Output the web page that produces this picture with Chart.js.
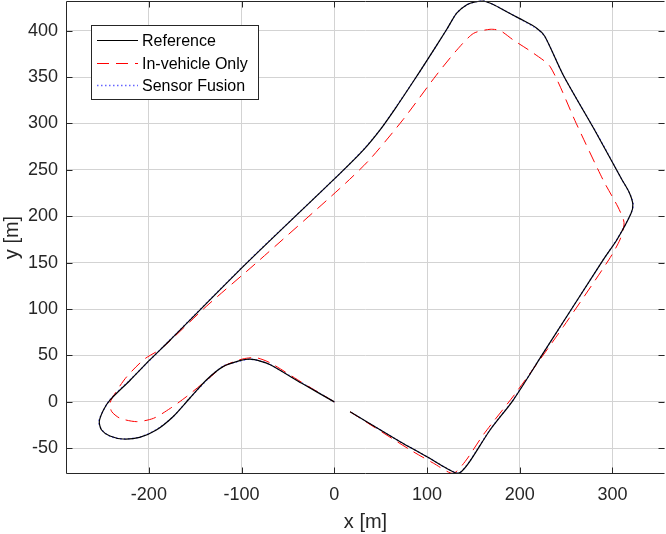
<!DOCTYPE html>
<html>
<head>
<meta charset="utf-8">
<title>Trajectory comparison</title>
<script src="https://cdn.jsdelivr.net/npm/chart.js@4.4.0/dist/chart.umd.min.js"></script>
<style>
  html, body { margin: 0; padding: 0; background: #fff; }
  canvas { display: block; }
</style>
</head>
<body>
<canvas id="traj" width="666" height="534"></canvas>
<script>
/* Vehicle trajectory: reference vs. in-vehicle only vs. sensor fusion (x/y in metres). */

const xTicks = [-200, -100, 0, 100, 200, 300];
const yTicks = [-50, 0, 50, 100, 150, 200, 250, 300, 350, 400];

const refX = [0, -35, -69, -80, -91, -102, -120, -138, -156, -174, -192, -210, -228, -242, -251, -253.5, -249, -242,
  -220, -199, -177, -94, 6, 31, 50, 67, 85, 100, 121, 132, 143, 152, 161, 172, 185, 200, 218, 227,
  247, 283, 310, 318, 322, 320, 305, 290, 225, 193, 168, 146, 137, 132, 121, 100, 71, 17];
const refY = [0, 20, 40, 44, 46, 44.4, 38, 23.6, 3.9, -16, -30.3, -38.2, -40, -36.8, -30.3, -21.3, -8.7, 2,
  23.6, 45.2, 66.7, 150, 246, 271, 294, 318, 345, 368, 401, 419, 428, 431, 432, 428, 421, 413, 403, 394,
  352, 289, 240, 226, 213, 203, 175, 153, 52, 2, -30.3, -64.4, -75.2, -76.8, -71.6, -59.1, -42.9, -10.6];

const inVehX = [0, -35, -69, -84, -95, -105, -120, -137, -159, -177, -195, -213, -231, -240, -242, -236,
  -224, -205, -186, -138, -85, 6, 38, 74, 110, 132, 150, 168, 179, 193, 215, 233, 261, 290, 306, 312, 312.5,
  308, 296, 247, 196, 161, 141, 128, 107, 82, 17];
const inVehY = [0, 21, 42, 47.6, 47, 44.5, 38, 24, 6, -7, -17.7, -21.3, -17.7, -10.6, -1.5, 10,
  27, 46, 58, 103, 149, 230, 261, 304, 352, 379, 397, 401.5, 400, 390, 375.6, 361, 300, 239, 210, 196, 190.6,
  174.5, 153, 81, 10, -35, -64.4, -77, -66.1, -51.8, -10.6];

const fusionX = [0, -35, -69, -80, -91, -102, -120, -138, -156, -174, -192, -210, -228, -242, -251, -254, -249, -242,
  -220, -199, -177, -94, 6, 31, 50, 67, 85, 100, 121, 132, 143, 152, 161, 172, 185, 200, 218, 227,
  247, 283, 310, 318, 322.5, 320, 305, 290, 225, 193, 168, 146, 137, 132, 121, 100, 71, 17];
const fusionY = [0, 20.5, 40, 44, 46, 44, 38.5, 23, 4, -16, -30, -38, -40, -37, -30, -21, -9, 2.5,
  24, 45, 67, 150.5, 246, 271.5, 294, 318.5, 345, 368, 401, 419, 428, 431, 432, 428, 421, 413, 402.5, 394,
  352, 289.5, 240, 226, 213, 203, 175.5, 153, 52, 2.5, -30, -64, -75, -76.5, -71.5, -59, -43, -10.6];

const seriesLabels = ['Reference', 'In-vehicle Only', 'Sensor Fusion'];

function toPoints(xs, ys) {
  return xs.map((x, i) => ({ x, y: ys[i] }));
}

const FONT = '"Liberation Sans", Arial, Helvetica, sans-serif';
const AXIS_COLOR = '#262626';

// MATLAB-style box: top/left/bottom frame, inward ticks on all sides, legend in the upper left
const matlabFrame = {
  id: 'matlabFrame',
  afterDatasetsDraw(chart) {
    const { ctx, chartArea: a, scales } = chart;
    const L = Math.round(a.left) + 0.5, R = Math.round(a.right) - 0.5;
    const T = Math.round(a.top) + 0.5, B = Math.round(a.bottom) - 0.5;
    ctx.save();
    ctx.strokeStyle = AXIS_COLOR;
    ctx.lineWidth = 1;
    ctx.beginPath();
    ctx.moveTo(L, T); ctx.lineTo(R, T);
    ctx.moveTo(L, T); ctx.lineTo(L, B);
    ctx.moveTo(L, B); ctx.lineTo(R, B);
    xTicks.forEach(v => {
      const p = Math.round(scales.x.getPixelForValue(v)) + 0.5;
      ctx.moveTo(p, B); ctx.lineTo(p, B - 6);
      ctx.moveTo(p, T); ctx.lineTo(p, T + 6);
    });
    yTicks.forEach(v => {
      const p = Math.round(scales.y.getPixelForValue(v)) + 0.5;
      ctx.moveTo(L, p); ctx.lineTo(L + 6, p);
      ctx.moveTo(R, p); ctx.lineTo(R - 6, p);
    });
    ctx.stroke();

    // legend box
    const bx = 91.5, by = 25.5, bw = 167, bh = 74;
    ctx.fillStyle = '#fff';
    ctx.fillRect(bx, by, bw, bh);
    ctx.strokeRect(bx, by, bw, bh);
    ctx.font = '16px ' + FONT;
    ctx.textBaseline = 'middle';
    chart.data.datasets.forEach((ds, i) => {
      const y = Math.round(40 + i * 22.6) + 0.5;
      ctx.strokeStyle = ds.borderColor;
      ctx.lineWidth = ds.borderWidth;
      ctx.setLineDash(ds.borderDash || []);
      ctx.beginPath();
      ctx.moveTo(97, y); ctx.lineTo(138, y);
      ctx.stroke();
      ctx.setLineDash([]);
      ctx.fillStyle = '#000';
      ctx.fillText(ds.label, 142, y + 1);
    });
    ctx.restore();
  },
};

new Chart(document.getElementById('traj'), {
  type: 'scatter',
  data: {
    datasets: [
      { label: seriesLabels[0], data: toPoints(refX, refY), borderColor: '#000000', borderWidth: 1.2 },
      { label: seriesLabels[1], data: toPoints(inVehX, inVehY), borderColor: '#ff0000', borderWidth: 1, borderDash: [12, 7] },
      { label: seriesLabels[2], data: toPoints(fusionX, fusionY), borderColor: '#6464ff', borderWidth: 1.4, borderDash: [1.5, 2.5] },
    ].map(d => Object.assign(d, { showLine: true, pointRadius: 0, fill: false, tension: 0.25, clip: false })),
  },
  options: {
    responsive: false,
    animation: false,
    layout: { padding: { top: 1, right: 1, left: 0, bottom: 0 } },
    plugins: { legend: { display: false }, tooltip: { enabled: false } },
    scales: {
      x: {
        type: 'linear',
        min: -289.4,
        max: 356.7,
        afterBuildTicks: s => { s.ticks = xTicks.map(v => ({ value: v })); },
        afterFit: s => { s.height = 60; s.paddingLeft = 0; s.paddingRight = 0; },
        grid: { color: '#d3d3d3', drawTicks: false },
        border: { display: false },
        ticks: { color: AXIS_COLOR, font: { family: FONT, size: 18 }, padding: 10 },
        title: { display: true, text: 'x [m]', color: AXIS_COLOR, font: { family: FONT, size: 20 }, padding: 0 },
      },
      y: {
        type: 'linear',
        min: -77.7,
        max: 432,
        afterBuildTicks: s => { s.ticks = yTicks.map(v => ({ value: v })); },
        afterFit: s => { s.width = 66; s.paddingTop = 0; s.paddingBottom = 0; },
        grid: { color: '#d3d3d3', drawTicks: false },
        border: { display: false },
        ticks: { color: AXIS_COLOR, font: { family: FONT, size: 18 }, padding: 8 },
        title: { display: true, text: 'y [m]', color: AXIS_COLOR, font: { family: FONT, size: 20 }, padding: 0 },
      },
    },
  },
  plugins: [matlabFrame],
});
</script>
</body>
</html>
